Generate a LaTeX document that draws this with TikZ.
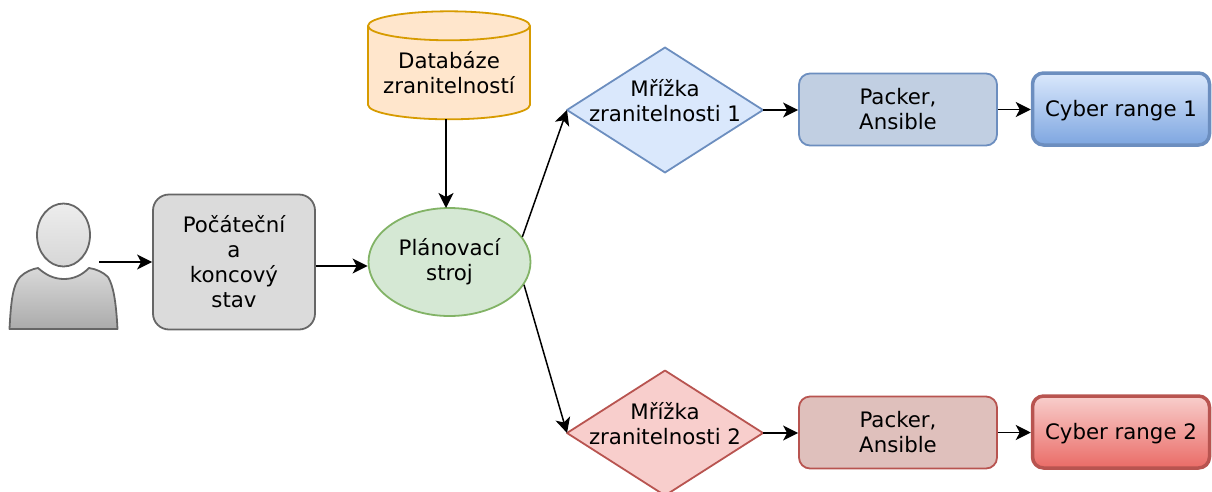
\documentclass[tikz,border=0pt]{standalone}
\usepackage{fontspec}
\setmainfont{DejaVu Sans}
\usetikzlibrary{shapes.geometric, arrows.meta}
\definecolor{bluefill}{HTML}{DAE8FC}
\definecolor{blueline}{HTML}{6C8EBF}
\definecolor{bluedark}{HTML}{7EA6E0}
\definecolor{bluetool}{HTML}{C1CFE2}
\definecolor{redfill}{HTML}{F8CECC}
\definecolor{redline}{HTML}{B85450}
\definecolor{reddark}{HTML}{EA6B66}
\definecolor{redtool}{HTML}{DFC0BC}
\definecolor{greenfill}{HTML}{D5E8D4}
\definecolor{greenline}{HTML}{82B366}
\definecolor{orangefill}{HTML}{FFE6CC}
\definecolor{orangeline}{HTML}{D79B00}
\tikzset{
	nodebase/.style={align=center, inner sep=0pt, font=\fontsize{21.3}{25}\selectfont, line width=1.8pt, execute at begin node={\rule{0pt}{20pt}}},
	startbox/.style={nodebase, draw=black!60, fill=black!14, rounded corners=16pt, minimum width=162pt, minimum height=135pt},
	gridbox/.style={nodebase, diamond, aspect=1.571, minimum width=196pt, minimum height=125pt, outer sep=0pt, execute at begin node={}},
	gridtext/.style={nodebase, yshift=9.5pt, execute at begin node={}},
	toolbox/.style={nodebase, rounded corners=11pt, minimum width=198pt, minimum height=72pt},
	rangebox/.style={nodebase, rounded corners=11pt, minimum width=177pt, minimum height=72pt, line width=3.5pt},
	conn/.style={-{Stealth[length=15pt,width=15pt,inset=4pt]}, line width=1.5pt}
}
\begin{document}
\begin{tikzpicture}[x=1pt, y=-1pt, line join=round]
	\useasboundingbox (0,0) rectangle (1212,491);
	% person
	\draw [line width=1.8pt, draw=black!60, top color=black!15, bottom color=black!33]
	(9.5,329) .. controls (11,300) and (13,285) .. (20,277)
	.. controls (25,272) and (32,269) .. (38,268)
	.. controls (46,275) and (54,279) .. (64,279)
	.. controls (74,279) and (82,275) .. (89,268)
	.. controls (96,269) and (103,272) .. (108,277)
	.. controls (113,285) and (116,300) .. (117.5,329) -- cycle;
	\draw [line width=1.8pt, draw=black!60, top color=black!7, bottom color=black!16]
	(63.5,235) ellipse (26.5 and 31.5);
	\path
	(99,262) coordinate (user)
	(446,119) coordinate (dbout)
	(446,208) coordinate (planin);
	% boxes
	\node [startbox] (start) at (234,262) {Počáteční\\a\\koncový\\stav};
	\node [nodebase, ellipse, draw=greenline, fill=greenfill, minimum width=162pt, minimum height=108pt, execute at begin node={\rule{0pt}{24pt}}] (planner) at (449.5,262) {Plánovací\\stroj};
	\node [nodebase, cylinder, shape border rotate=90, aspect=0.22, draw=orangeline, fill=orangefill, minimum width=162pt, minimum height=108pt] (db) at (449,73) {Databáze\\zranitelností};
	\node [gridbox, draw=blueline, fill=bluefill, label={[gridtext]center:{Mřížka\\zranitelnosti 1}}] (grid1) at (665,110) {};
	\node [gridbox, draw=redline, fill=redfill, label={[gridtext]center:{Mřížka\\zranitelnosti 2}}] (grid2) at (665,433) {};
	\node [toolbox, draw=blueline, fill=bluetool] (tool1) at (898,109.5) {Packer,\\Ansible};
	\node [toolbox, draw=redline, fill=redtool] (tool2) at (898,432.5) {Packer,\\Ansible};
	\node [rangebox, draw=blueline, top color=bluefill, bottom color=bluedark] (range1) at (1121,109) {Cyber range 1};
	\node [rangebox, draw=redline, top color=redfill, bottom color=reddark] (range2) at (1121,432) {Cyber range 2};
	% arrows
	\draw [conn] (user) -- (start.west |- user);
	\draw [conn] (start.east |- 0,266) -- (planner.west |- 0,266);
	\draw [conn] (dbout) -- (planin);
	\draw [conn] (planner.19) -- (grid1.west);
	\draw [conn] (planner.-17) -- (grid2.west);
	\foreach \a/\b in {grid1/tool1, tool1/range1, grid2/tool2, tool2/range2}
	\draw [conn] (\a.east) -- (\a.east -| \b.west);
\end{tikzpicture}
\end{document}
